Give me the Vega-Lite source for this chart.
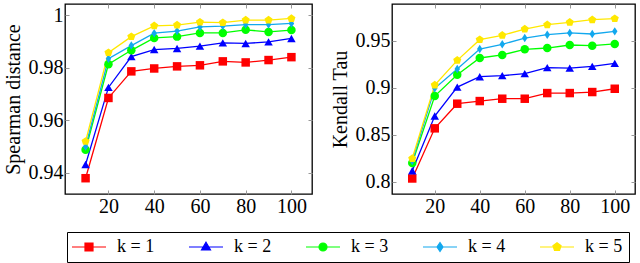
{
  "$schema": "https://vega.github.io/schema/vega-lite/v6.json",
  "padding": {"left": 2, "top": 2, "right": 2, "bottom": 0},
  "background": "white",
  "datasets": {
    "spearman": [
      {"n": 10, "k": 1, "v": 0.938}, {"n": 20, "k": 1, "v": 0.9685}, {"n": 30, "k": 1, "v": 0.9786}, {"n": 40, "k": 1, "v": 0.9797}, {"n": 50, "k": 1, "v": 0.9805}, {"n": 60, "k": 1, "v": 0.9809}, {"n": 70, "k": 1, "v": 0.9824}, {"n": 80, "k": 1, "v": 0.982}, {"n": 90, "k": 1, "v": 0.9829}, {"n": 100, "k": 1, "v": 0.984},
      {"n": 10, "k": 2, "v": 0.9432}, {"n": 20, "k": 2, "v": 0.9725}, {"n": 30, "k": 2, "v": 0.9842}, {"n": 40, "k": 2, "v": 0.9869}, {"n": 50, "k": 2, "v": 0.9873}, {"n": 60, "k": 2, "v": 0.9882}, {"n": 70, "k": 2, "v": 0.9894}, {"n": 80, "k": 2, "v": 0.9892}, {"n": 90, "k": 2, "v": 0.9898}, {"n": 100, "k": 2, "v": 0.9911},
      {"n": 10, "k": 3, "v": 0.9488}, {"n": 20, "k": 3, "v": 0.9813}, {"n": 30, "k": 3, "v": 0.9866}, {"n": 40, "k": 3, "v": 0.9913}, {"n": 50, "k": 3, "v": 0.9918}, {"n": 60, "k": 3, "v": 0.9932}, {"n": 70, "k": 3, "v": 0.9932}, {"n": 80, "k": 3, "v": 0.9944}, {"n": 90, "k": 3, "v": 0.9936}, {"n": 100, "k": 3, "v": 0.9943},
      {"n": 10, "k": 4, "v": 0.950}, {"n": 20, "k": 4, "v": 0.9834}, {"n": 30, "k": 4, "v": 0.9884}, {"n": 40, "k": 4, "v": 0.9931}, {"n": 50, "k": 4, "v": 0.9939}, {"n": 60, "k": 4, "v": 0.9955}, {"n": 70, "k": 4, "v": 0.9958}, {"n": 80, "k": 4, "v": 0.9964}, {"n": 90, "k": 4, "v": 0.9964}, {"n": 100, "k": 4, "v": 0.9968},
      {"n": 10, "k": 5, "v": 0.952}, {"n": 20, "k": 5, "v": 0.9857}, {"n": 30, "k": 5, "v": 0.9918}, {"n": 40, "k": 5, "v": 0.9959}, {"n": 50, "k": 5, "v": 0.9962}, {"n": 60, "k": 5, "v": 0.9973}, {"n": 70, "k": 5, "v": 0.9971}, {"n": 80, "k": 5, "v": 0.9981}, {"n": 90, "k": 5, "v": 0.9981}, {"n": 100, "k": 5, "v": 0.9987}
    ],
    "kendall": [
      {"n": 10, "k": 1, "v": 0.8035}, {"n": 20, "k": 1, "v": 0.8568}, {"n": 30, "k": 1, "v": 0.883}, {"n": 40, "k": 1, "v": 0.8858}, {"n": 50, "k": 1, "v": 0.8883}, {"n": 60, "k": 1, "v": 0.8883}, {"n": 70, "k": 1, "v": 0.8943}, {"n": 80, "k": 1, "v": 0.8943}, {"n": 90, "k": 1, "v": 0.8954}, {"n": 100, "k": 1, "v": 0.8989},
      {"n": 10, "k": 2, "v": 0.8117}, {"n": 20, "k": 2, "v": 0.8699}, {"n": 30, "k": 2, "v": 0.9007}, {"n": 40, "k": 2, "v": 0.9117}, {"n": 50, "k": 2, "v": 0.9128}, {"n": 60, "k": 2, "v": 0.9149}, {"n": 70, "k": 2, "v": 0.9213}, {"n": 80, "k": 2, "v": 0.9209}, {"n": 90, "k": 2, "v": 0.9227}, {"n": 100, "k": 2, "v": 0.9259},
      {"n": 10, "k": 3, "v": 0.8199}, {"n": 20, "k": 3, "v": 0.8911}, {"n": 30, "k": 3, "v": 0.9138}, {"n": 40, "k": 3, "v": 0.9316}, {"n": 50, "k": 3, "v": 0.9348}, {"n": 60, "k": 3, "v": 0.9408}, {"n": 70, "k": 3, "v": 0.9422}, {"n": 80, "k": 3, "v": 0.9454}, {"n": 90, "k": 3, "v": 0.9447}, {"n": 100, "k": 3, "v": 0.9465},
      {"n": 10, "k": 4, "v": 0.822}, {"n": 20, "k": 4, "v": 0.8993}, {"n": 30, "k": 4, "v": 0.9199}, {"n": 40, "k": 4, "v": 0.9411}, {"n": 50, "k": 4, "v": 0.9461}, {"n": 60, "k": 4, "v": 0.9528}, {"n": 70, "k": 4, "v": 0.9564}, {"n": 80, "k": 4, "v": 0.9582}, {"n": 90, "k": 4, "v": 0.9571}, {"n": 100, "k": 4, "v": 0.9599},
      {"n": 10, "k": 5, "v": 0.8248}, {"n": 20, "k": 5, "v": 0.9028}, {"n": 30, "k": 5, "v": 0.9291}, {"n": 40, "k": 5, "v": 0.9511}, {"n": 50, "k": 5, "v": 0.9557}, {"n": 60, "k": 5, "v": 0.9624}, {"n": 70, "k": 5, "v": 0.967}, {"n": 80, "k": 5, "v": 0.9695}, {"n": 90, "k": 5, "v": 0.9723}, {"n": 100, "k": 5, "v": 0.9734}
    ]
  },
  "config": {
    "view": {"stroke": "black", "strokeWidth": 1.3},
    "font": "Liberation Serif",
    "axis": {
      "labelFont": "Liberation Serif", "labelFontSize": 20, "labelColor": "black",
      "titleFont": "Liberation Serif", "titleFontSize": 20, "titleFontWeight": "normal", "titleColor": "black",
      "grid": false, "domain": false, "tickColor": "#999999", "tickSize": -4, "tickWidth": 1,
      "labelPadding": 6, "titlePadding": 5
    },
    "legend": {"labelFont": "Liberation Serif", "labelFontSize": 18, "labelColor": "black"}
  },
  "spacing": 15,
  "resolve": {"scale": {"color": "shared"}},
  "hconcat": [
    {
      "width": 247, "height": 190,
      "data": {"name": "spearman"},
      "resolve": {"axis": {"x": "independent", "y": "independent"}},
      "encoding": {
        "x": {"field": "n", "type": "quantitative", "scale": {"domain": [1, 109], "nice": false, "zero": false}, "axis": null},
        "y": {"field": "v", "type": "quantitative", "scale": {"domain": [0.932, 1.0042], "nice": false, "zero": false}, "axis": null},
        "color": {"field": "k", "type": "nominal", "scale": {"domain": [1, 2, 3, 4, 5], "range": ["#ff0000", "#0000ff", "#00ff00", "#12a8ee", "#ffe800"]}}
      },
      "layer": [
        {
          "mark": {"type": "line", "strokeWidth": 1.3},
          "encoding": {
            "x": {"field": "n", "type": "quantitative", "axis": {"values": [20, 40, 60, 80, 100], "title": null}},
            "y": {"field": "v", "type": "quantitative", "axis": {"values": [0.94, 0.96, 0.98, 1], "format": "~g", "title": "Spearman distance"}}
          }
        },
        {
          "transform": [{"filter": "datum.k == 1"}],
          "mark": {"type": "point", "filled": true, "opacity": 1, "size": 72, "shape": "square"},
          "encoding": {
            "x": {"field": "n", "type": "quantitative", "axis": {"orient": "top", "values": [20, 40, 60, 80, 100], "labels": false, "title": null}},
            "y": {"field": "v", "type": "quantitative", "axis": {"orient": "right", "values": [0.94, 0.96, 0.98, 1], "labels": false, "title": null}}
          }
        },
        {
          "transform": [{"filter": "datum.k == 2"}],
          "mark": {"type": "point", "filled": true, "opacity": 1, "size": 72, "shape": "triangle-up"},
          "encoding": {}
        },
        {
          "transform": [{"filter": "datum.k == 3"}],
          "mark": {"type": "point", "filled": true, "opacity": 1, "size": 72, "shape": "circle"},
          "encoding": {}
        },
        {
          "transform": [{"filter": "datum.k == 4"}],
          "mark": {"type": "point", "filled": true, "opacity": 1, "size": 72, "shape": "M0,-1L0.65,0L0,1L-0.65,0Z"},
          "encoding": {}
        },
        {
          "transform": [{"filter": "datum.k == 5"}],
          "mark": {"type": "point", "filled": true, "opacity": 1, "size": 72, "shape": "M0,-1L0.951,-0.309L0.588,0.809L-0.588,0.809L-0.951,-0.309Z"},
          "encoding": {}
        },
        {
          "transform": [{"filter": "datum.n < 0"}],
          "mark": {"type": "point", "filled": true, "opacity": 1, "strokeWidth": 1.2},
          "encoding": {
            "color": {"field": "k", "type": "nominal",
              "legend": {"title": null, "orient": "none", "legendX": 2, "legendY": 228, "direction": "horizontal", "columns": 5, "columnPadding": 31, "padding": 6, "strokeColor": "black", "symbolSize": 100, "symbolOffset": 7, "labelOffset": 19, "symbolStrokeWidth": 1.2, "labelFont": "Liberation Serif", "labelFontSize": 18, "labelExpr": "'k = ' + datum.label"}},
            "stroke": {"field": "k", "type": "nominal", "scale": {"domain": [1, 2, 3, 4, 5], "range": ["#ff0000", "#0000ff", "#00ff00", "#12a8ee", "#ffe800"]},
              "legend": {"title": null, "orient": "none", "legendX": 2, "legendY": 228, "direction": "horizontal", "columns": 5, "columnPadding": 31, "padding": 6, "strokeColor": "black", "symbolSize": 100, "symbolOffset": 7, "labelOffset": 19, "symbolStrokeWidth": 1.2, "labelFont": "Liberation Serif", "labelFontSize": 18, "labelExpr": "'k = ' + datum.label"}},
            "shape": {"field": "k", "type": "nominal", "scale": {"domain": [1, 2, 3, 4, 5], "range": [
                "M-3.4,0H3.4M-0.8,-0.8H0.8V0.8H-0.8Z",
                "M-3.4,0H3.4M0,-0.95L0.9,0.6L-0.9,0.6Z",
                "M-3.4,0H3.4M0.8,0C0.8,0.4418,0.4418,0.8,0,0.8C-0.4418,0.8,-0.8,0.4418,-0.8,0C-0.8,-0.4418,-0.4418,-0.8,0,-0.8C0.4418,-0.8,0.8,-0.4418,0.8,0Z",
                "M-3.4,0H3.4M0,-0.9L0.6,0L0,0.9L-0.6,0Z",
                "M-3.4,0H3.4M0,-0.85L0.81,-0.26L0.5,0.69L-0.5,0.69L-0.81,-0.26Z"]},
              "legend": {"title": null, "orient": "none", "legendX": 2, "legendY": 228, "direction": "horizontal", "columns": 5, "columnPadding": 31, "padding": 6, "strokeColor": "black", "symbolSize": 100, "symbolOffset": 7, "labelOffset": 19, "symbolStrokeWidth": 1.2, "labelFont": "Liberation Serif", "labelFontSize": 18, "labelExpr": "'k = ' + datum.label"}}
          }
        }
      ]
    },
    {
      "width": 243, "height": 190,
      "data": {"name": "kendall"},
      "resolve": {"axis": {"x": "independent", "y": "independent"}},
      "encoding": {
        "x": {"field": "n", "type": "quantitative", "scale": {"domain": [1, 109], "nice": false, "zero": false}, "axis": null},
        "y": {"field": "v", "type": "quantitative", "scale": {"domain": [0.787, 0.989], "nice": false, "zero": false}, "axis": null},
        "color": {"field": "k", "type": "nominal"}
      },
      "layer": [
        {
          "mark": {"type": "line", "strokeWidth": 1.3},
          "encoding": {
            "x": {"field": "n", "type": "quantitative", "axis": {"values": [20, 40, 60, 80, 100], "title": null}},
            "y": {"field": "v", "type": "quantitative", "axis": {"values": [0.8, 0.85, 0.9, 0.95], "format": "~g", "title": "Kendall Tau"}}
          }
        },
        {
          "transform": [{"filter": "datum.k == 1"}],
          "mark": {"type": "point", "filled": true, "opacity": 1, "size": 72, "shape": "square"},
          "encoding": {
            "x": {"field": "n", "type": "quantitative", "axis": {"orient": "top", "values": [20, 40, 60, 80, 100], "labels": false, "title": null}},
            "y": {"field": "v", "type": "quantitative", "axis": {"orient": "right", "values": [0.8, 0.85, 0.9, 0.95], "labels": false, "title": null}}
          }
        },
        {
          "transform": [{"filter": "datum.k == 2"}],
          "mark": {"type": "point", "filled": true, "opacity": 1, "size": 72, "shape": "triangle-up"},
          "encoding": {}
        },
        {
          "transform": [{"filter": "datum.k == 3"}],
          "mark": {"type": "point", "filled": true, "opacity": 1, "size": 72, "shape": "circle"},
          "encoding": {}
        },
        {
          "transform": [{"filter": "datum.k == 4"}],
          "mark": {"type": "point", "filled": true, "opacity": 1, "size": 72, "shape": "M0,-1L0.65,0L0,1L-0.65,0Z"},
          "encoding": {}
        },
        {
          "transform": [{"filter": "datum.k == 5"}],
          "mark": {"type": "point", "filled": true, "opacity": 1, "size": 72, "shape": "M0,-1L0.951,-0.309L0.588,0.809L-0.588,0.809L-0.951,-0.309Z"},
          "encoding": {}
        }
      ]
    }
  ]
}
